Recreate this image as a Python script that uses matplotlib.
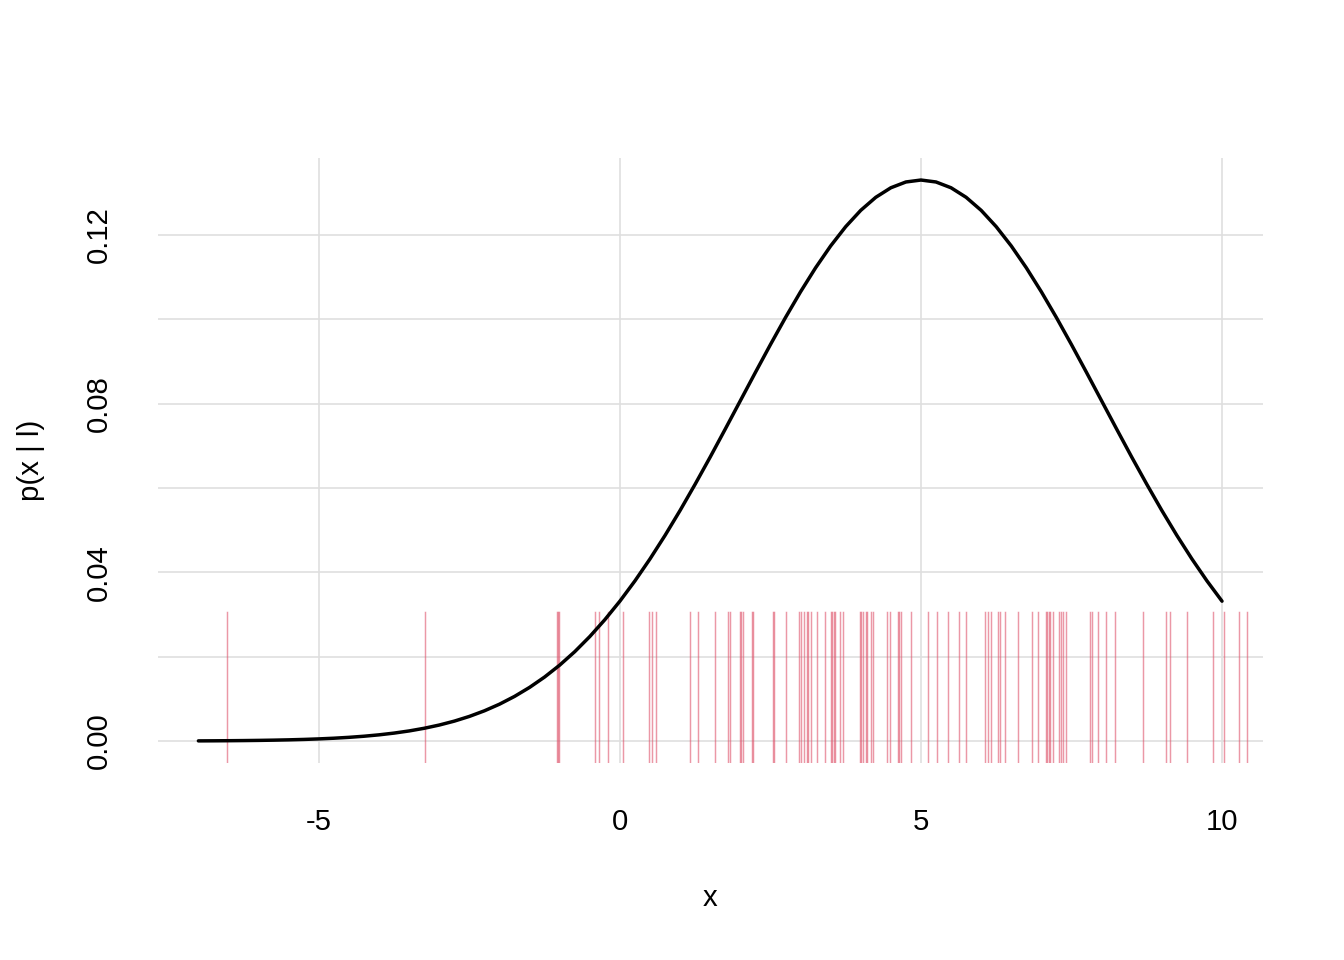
import numpy as np
import matplotlib
matplotlib.use("Agg")
import matplotlib.pyplot as plt

# density curve (quarter-unit steps from -7 to 10)
curve_x = np.arange(-7.0, 10.001, 0.25)
curve_y = [0.000045, 0.000062, 0.000086, 0.000118, 0.000160, 0.000217, 0.000291,
           0.000388, 0.000514, 0.000676, 0.000884, 0.001147, 0.001477, 0.001891,
           0.002402, 0.003032, 0.003799, 0.004726, 0.005843, 0.007172, 0.008740,
           0.010583, 0.012720, 0.015184, 0.017997, 0.021183, 0.024771, 0.028768,
           0.033159, 0.037967, 0.043172, 0.048749, 0.054670, 0.060886, 0.067325,
           0.073953, 0.080657, 0.087365, 0.093970, 0.100379, 0.106483, 0.112176,
           0.117355, 0.121924, 0.125795, 0.128889, 0.131147, 0.132520, 0.132981,
           0.132520, 0.131147, 0.128889, 0.125795, 0.121924, 0.117355, 0.112176,
           0.106483, 0.100379, 0.093970, 0.087365, 0.080657, 0.073953, 0.067325,
           0.060886, 0.054670, 0.048749, 0.043172, 0.037967, 0.033159]

# sample positions shown as rug lines
samples = [-6.52, -3.23, -1.05, -1.03, -1.01, -0.415, -0.35, -0.205, 0.05, 0.49,
           0.53, 0.60, 1.16, 1.30, 1.58, 1.80, 1.83, 1.99, 2.01, 2.04, 2.19, 2.21,
           2.54, 2.56, 2.76, 2.98, 3.00, 3.05, 3.10, 3.12, 3.17, 3.27, 3.40, 3.51,
           3.53, 3.55, 3.57, 3.65, 3.70, 3.98, 4.00, 4.04, 4.08, 4.10, 4.17, 4.20,
           4.43, 4.49, 4.62, 4.64, 4.67, 4.84, 5.11, 5.27, 5.45, 5.63, 5.74, 6.07,
           6.12, 6.16, 6.28, 6.32, 6.39, 6.62, 6.84, 6.95, 7.07, 7.10, 7.13, 7.15,
           7.20, 7.30, 7.33, 7.36, 7.41, 7.80, 7.84, 7.94, 8.07, 8.23, 8.68, 9.07,
           9.13, 9.42, 9.85, 10.04, 10.28, 10.41]

x_ticks = [-5, 0, 5, 10]
y_ticks = [0.00, 0.04, 0.08, 0.12]
y_minor = [0.02, 0.06, 0.10]

plt.rcParams['font.family'] = ['Liberation Sans', 'DejaVu Sans']

fig = plt.figure(figsize=(7, 5), dpi=192)
ax = fig.add_axes([0.1176, 0.2052, 0.8221, 0.6302])

grid_kw = dict(color="#dedede", linewidth=0.6, zorder=0)
for t in x_ticks:
    ax.axvline(t, **grid_kw)
for t in y_ticks + y_minor:
    ax.axhline(t, **grid_kw)

# rug
for s in samples:
    ax.axvline(s, ymin=0, ymax=0.25, color="#DF536B", alpha=0.6,
               linewidth=0.55, zorder=1)

ax.plot(curve_x, curve_y, color="black", linewidth=1.3, zorder=3,
        solid_capstyle="round", solid_joinstyle="round")

ax.set_xlim(-7.67, 10.68)
ax.set_ylim(-0.0052, 0.1382)
ax.set_xticks(x_ticks)
ax.set_xticklabels(["-5", "0", "5", "10"])
ax.set_yticks(y_ticks)
ax.set_yticklabels(["0.00", "0.04", "0.08", "0.12"], rotation=90, va="center")

for sp in ax.spines.values():
    sp.set_visible(False)
ax.tick_params(length=0, labelsize=11, colors="black", pad=17)
ax.tick_params(axis="x", pad=17)

ax.set_xlabel("x", fontsize=11, labelpad=18)
ax.set_ylabel("p(x | l)", fontsize=11, labelpad=15)

fig.savefig("out.png", dpi=192, facecolor="white")
